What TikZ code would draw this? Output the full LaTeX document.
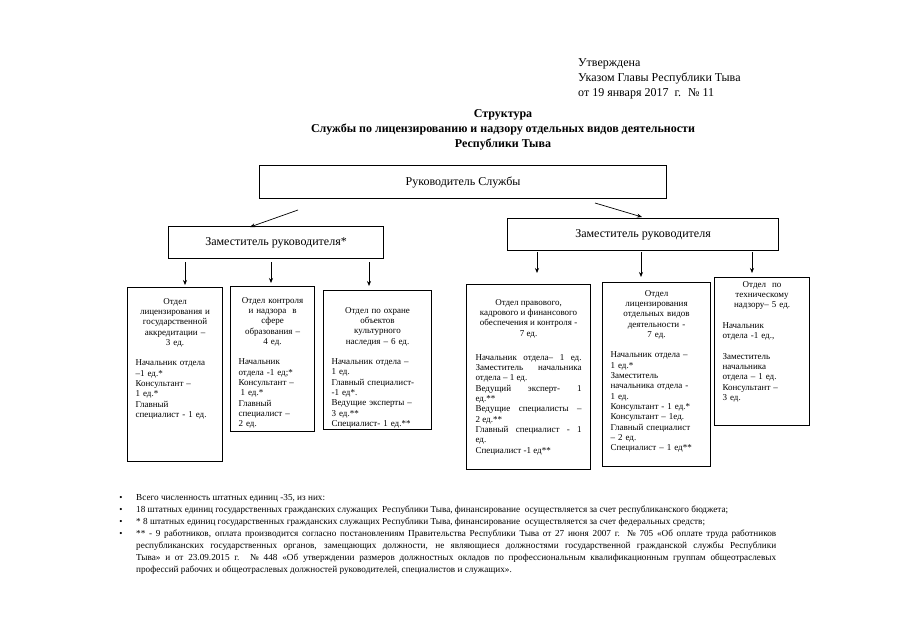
\documentclass[tikz,border=0pt]{standalone}
\usepackage{fontspec}
\setmainfont{Liberation Serif}
\usetikzlibrary{arrows.meta,calc}
\tikzset{
  box/.style={draw, line width=1.1pt, inner sep=0pt, anchor=north west},
  arr/.style={-{Stealth[length=5pt,width=4pt]}, line width=0.7pt},
  btext/.style={font=\fontsize{9}{10.3}\selectfont, align=left, inner sep=0pt, anchor=north},
  big/.style={font=\fontsize{12}{15}\selectfont, inner sep=0pt},
  note/.style={font=\fontsize{9.2}{12}\selectfont, inner sep=0pt, anchor=base west, align=justify, text width=640pt}
}
\begin{document}
\begin{tikzpicture}[x=1pt,y=-1pt]
\useasboundingbox[fill=white] (0,0) rectangle (905,640);

% header
\node[big, anchor=north west, align=left] (hdr) at (578,58) {Утверждена\\Указом Главы Республики Тыва\\от 19 января 2017~ г.~ №~11};
\node[big, anchor=north, align=center, font=\fontsize{12}{15}\selectfont\bfseries] (title) at (503,109) {Структура\\Службы по лицензированию и надзору отдельных видов деятельности\\Республики Тыва};

% top boxes
\node[box, minimum width=407pt, minimum height=33pt] (ruk) at (259,165) {};
\node[big] (rukt) at (ruk.center) {Руководитель Службы};
\node[box, minimum width=215pt, minimum height=32pt] (z1) at (168,226) {};
\node[big] (z1t) at (z1.center) {Заместитель руководителя*};
\node[box, minimum width=271pt, minimum height=32pt] (z2) at (507,218) {};
\node[big] (z2t) at (z2.center) {Заместитель руководителя};

\coordinate (a1s) at (298,210); \coordinate (a1e) at (250,227);
\coordinate (a2s) at (595,203); \coordinate (a2e) at (642,217);
\draw[arr] (a1s) -- (a1e);
\draw[arr] (a2s) -- (a2e);

% department boxes
\node[box, minimum width=95pt, minimum height=174pt] (d1) at (127,287) {};
\node[box, minimum width=84pt, minimum height=145pt] (d2) at (230,286) {};
\node[box, minimum width=108pt, minimum height=139pt] (d3) at (323,290) {};
\node[box, minimum width=124pt, minimum height=185pt] (d4) at (466,284) {};
\node[box, minimum width=108pt, minimum height=184pt] (d5) at (602,282) {};
\node[box, minimum width=95pt, minimum height=148pt] (d6) at (714,277) {};

% arrows down
\coordinate (b1s) at (185,262); \coordinate (b1e) at (185,285);
\coordinate (b2s) at (271,262); \coordinate (b2e) at (271,283);
\coordinate (b3s) at (369,262); \coordinate (b3e) at (369,286);
\coordinate (b4s) at (537,252); \coordinate (b4e) at (537,273);
\coordinate (b5s) at (641,252); \coordinate (b5e) at (641,277);
\coordinate (b6s) at (752,252); \coordinate (b6e) at (752,273);
\foreach \i in {1,...,6} {\draw[arr] (b\i s) -- (b\i e);}

% texts
\node[btext, text width=79pt] (t1) at ([yshift=-11pt]d1.north) {{\centering Отдел\\лицензирования и\\государственной\\аккредитации –\\3 ед.\par}\vspace{10.3pt}
Начальник отдела\\–1 ед.*\\Консультант –\\1 ед.*\\Главный\\специалист - 1 ед.};

\node[btext, text width=68pt] (t2) at ([yshift=-11pt]d2.north) {{\centering Отдел контроля\\и надзора~ в\\сфере\\образования –\\4 ед.\par}\vspace{10.3pt}
Начальник\\отдела -1 ед;*\\Консультант –\\\hspace*{2pt}1 ед.*\\Главный\\специалист –\\2 ед.};

\node[btext, text width=92pt] (t3) at ([yshift=-17pt]d3.north) {{\centering Отдел по охране\\объектов\\культурного\\наследия – 6 ед.\par}\vspace{10.3pt}
Начальник отдела –\\1 ед.\\Главный специалист-\\-1 ед*.\\Ведущие эксперты –\\3 ед.**\\Специалист- 1 ед.**};

\node[btext, text width=106pt, align=justify] (t4) at ([yshift=-15pt]d4.north) {{\centering Отдел правового,\\кадрового и финансового\\обеспечения и контроля -\\7 ед.\par}\vspace{14pt}
Начальник отдела– 1 ед.\linebreak
Заместитель начальника\linebreak
отдела – 1 ед.\\
Ведущий эксперт- 1\linebreak
ед.**\\
Ведущие специалисты –\linebreak
2 ед.**\\
Главный специалист - 1\linebreak
ед.\\
Специалист -1 ед**};

\node[btext, text width=92pt] (t5) at ([yshift=-8pt]d5.north) {{\centering Отдел\\лицензирования\\отдельных видов\\деятельности -\\7 ед.\par}\vspace{10.3pt}
Начальник отдела –\\1 ед.*\\Заместитель\\начальника отдела -\\1 ед.\\Консультант - 1 ед.*\\Консультант – 1ед.\\Главный специалист\\– 2 ед.\\Специалист – 1 ед**};

\node[btext, text width=79pt] (t6) at ([yshift=-4pt]d6.north) {{\centering Отдел~ по\\техническому\\надзору– 5 ед.\par}\vspace{10.3pt}
Начальник\\отдела -1 ед.,\\[10.3pt]Заместитель\\начальника\\отдела – 1 ед.\\Консультант –\\3 ед.};

% notes
\foreach \y/\n in {500/1,512/2,524/3,536/4} {\node[font=\fontsize{9}{12}\selectfont, inner sep=0pt, anchor=base] (bul\n) at (121,\y) {•};}
\node[note] (n1) at (136,500) {Всего численность штатных единиц -35, из них:};
\node[note] (n2) at (136,512) {18 штатных единиц государственных гражданских служащих~ Республики Тыва, финансирование~ осуществляется за счет республиканского бюджета;};
\node[note] (n3) at (136,524) {* 8 штатных единиц государственных гражданских служащих Республики Тыва, финансирование~ осуществляется за счет федеральных средств;};
\node[note] (n4) at (136,536) {** - 9 работников, оплата производится согласно постановлениям Правительства Республики Тыва от 27 июня 2007 г. № 705 «Об оплате труда работников\linebreak
республиканских государственных органов, замещающих должности, не являющиеся должностями государственной гражданской службы Республики\linebreak
Тыва» и от 23.09.2015 г. № 448 «Об утверждении размеров должностных окладов по профессиональным квалификационным группам общеотраслевых\linebreak
профессий рабочих и общеотраслевых должностей руководителей, специалистов и служащих».};
\end{tikzpicture}
\end{document}
